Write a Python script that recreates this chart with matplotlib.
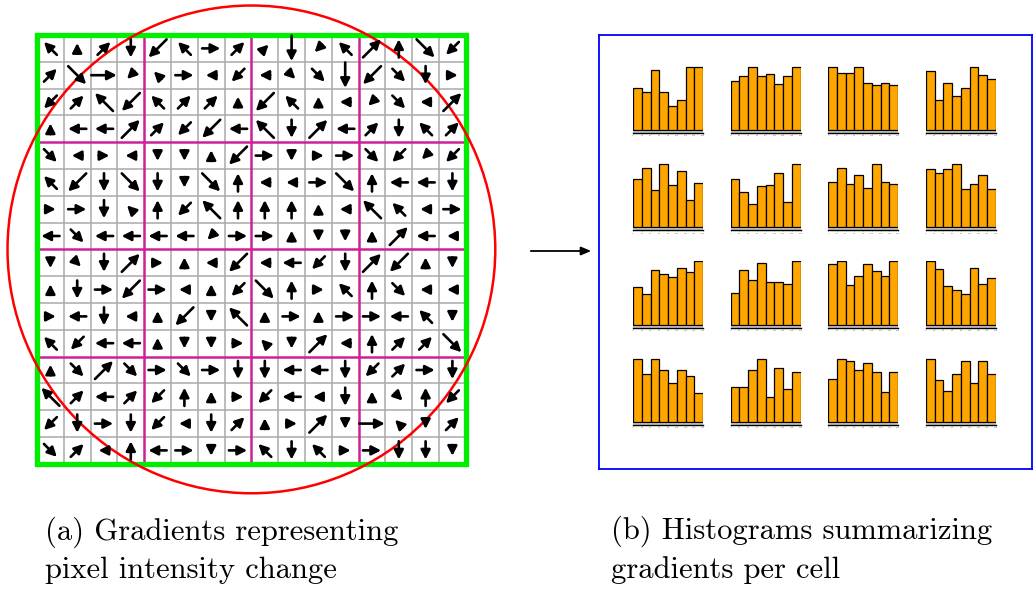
import matplotlib.pyplot as plt
from matplotlib.patches import Circle, Rectangle, FancyArrowPatch
import numpy as np

# === Gradient arrows per cell (16 x 16), row 0 at top ===
grad_dirs = [
    "NW N NE S SW NW E NE NE S SW NW NE N SE SW",
    "NE SE E SW NW E W SW W SE SE S SW SE S E",
    "SW NE NW SW NW NE NE N SW NW N W SW SE W NE",
    "N W W NE NE SW SW W NW S NE W NE S NW NE",
    "SE W E W S S N SW E S E E SE SW SW SW",
    "NW SW S SE S S SE N W W E SE N W W S",
    "E E S NW N SW NW N N N N W NW NW W E",
    "W SE W W W W SW E E N S S N NE W W",
    "S SE S NE E N W SW W W SW S NE SW N S",
    "N S E SW E W N SW SE N E NW N SE W W",
    "E W S W N SW S NW N E N E E W NW S",
    "NW SW W W N S S E NW S NE W N NE NE SE",
    "N SE NE SE E SE E S S W W S SW NE E S",
    "NW NE W NE SW N N E SW W W S N SE N SW",
    "SW S E S SW W S NE N E NE S E NW S NE",
    "SE NE W N W E S E NW S NW E E S S S",
]
# 0 = short (head only), 1 = medium, 2 = long
grad_lens = [
    "1011211102012121",
    "1220010100122110",
    "1122111021000102",
    "0112112121211111",
    "1000000210011101",
    "1212102100121111",
    "0110112111002101",
    "1111110110000210",
    "0012000201112200",
    "0112100121011100",
    "0110020201011110",
    "1111000000201112",
    "0121111111111111",
    "2111110011010011",
    "1111101100202001",
    "1101110111101110",
]

# === Histogram bar heights (4 x 4 cells, 8 orientation bins each) ===
hist_vals = [
    [125, 113, 177, 113, 71, 89, 188, 188],
    [145, 159, 188, 159, 167, 138, 159, 188],
    [188, 168, 168, 188, 140, 133, 140, 133],
    [176, 89, 139, 101, 125, 188, 164, 151],
    [143, 175, 111, 187, 124, 167, 80, 130],
    [142, 104, 70, 121, 126, 159, 76, 187],
    [135, 174, 129, 154, 115, 187, 135, 128],
    [173, 160, 172, 187, 113, 127, 153, 112],
    [110, 90, 162, 149, 142, 167, 155, 187],
    [94, 162, 131, 181, 125, 125, 119, 187],
    [180, 187, 116, 143, 180, 158, 143, 187],
    [187, 163, 114, 102, 90, 168, 121, 138],
    [188, 143, 188, 155, 117, 155, 137, 85],
    [103, 103, 155, 188, 75, 161, 97, 149],
    [127, 188, 181, 155, 175, 148, 88, 148],
    [188, 123, 91, 143, 181, 117, 181, 143],
]
bin_edges = [0, 20, 40, 60, 80, 100, 120, 140, 160]

caption_a = "(a) Gradients representing\npixel intensity change"
caption_b = "(b) Histograms summarizing\ngradients per cell"

W, H = 1035, 589
fig = plt.figure(figsize=(W / 100, H / 100), dpi=100)


def px_axes(x0, y0, x1, y1):
    # axes from pixel box (top-left origin)
    return fig.add_axes([x0 / W, 1 - y1 / H, (x1 - x0) / W, (y1 - y0) / H])


# === Left panel: grid of cells with gradient arrows ===
cell = 26.8
gx0, gy0 = 37, 35
ax = px_axes(0, 0, 505, 500)
ax.set_xlim(-gx0 / cell, (505 - gx0) / cell)
ax.set_ylim((500 - gy0) / cell, -gy0 / cell)
ax.set_aspect('equal')
ax.axis('off')

n = 16
for k in range(n + 1):
    if k % 4 == 0:
        continue
    ax.plot([k, k], [0, n], color='#aaaaaa', lw=1.1, zorder=1)
    ax.plot([0, n], [k, k], color='#aaaaaa', lw=1.1, zorder=1)
for k in (4, 8, 12):
    ax.plot([k, k], [0, n], color='#cc2299', lw=1.8, zorder=2)
    ax.plot([0, n], [k, k], color='#cc2299', lw=1.8, zorder=2)
ax.add_patch(Rectangle((0, 0), n, n, fill=False, edgecolor='#00ee00', lw=3.8, zorder=3))

vec = {'E': (1, 0), 'NE': (1, -1), 'N': (0, -1), 'NW': (-1, -1),
       'W': (-1, 0), 'SW': (-1, 1), 'S': (0, 1), 'SE': (1, 1)}
len_of = {'0': 0.4, '1': 0.68, '2': 0.95}
for r in range(n):
    dirs = grad_dirs[r].split()
    for c in range(n):
        vx, vy = vec[dirs[c]]
        norm = np.hypot(vx, vy)
        L = len_of[grad_lens[r][c]]
        dx, dy = vx / norm * L / 2, vy / norm * L / 2
        cx, cy = c + 0.5, r + 0.5
        ax.annotate('', xy=(cx + dx, cy + dy), xytext=(cx - dx, cy - dy),
                    arrowprops=dict(arrowstyle='-|>,head_length=0.55,head_width=0.28',
                                    color='black', lw=1.9, shrinkA=0, shrinkB=0),
                    zorder=5)

ax.add_patch(Circle((8, 8), 9.1, fill=False, edgecolor='#ff0000', lw=1.8, zorder=4))

# === Arrow between panels ===
fig.patches.append(FancyArrowPatch(
    (528 / W, 1 - 251 / H), (594 / W, 1 - 251 / H), transform=fig.transFigure,
    arrowstyle='-|>,head_length=0.6,head_width=0.25', mutation_scale=10,
    color='black', lw=1.3))

# === Right panel: blue box with 4x4 histograms ===
box = px_axes(599, 35, 1032, 469)
box.set_xticks([])
box.set_yticks([])
for s in box.spines.values():
    s.set_color('#0000ff')
    s.set_linewidth(1.3)

for i, vals in enumerate(hist_vals):
    r, c = divmod(i, 4)
    left = 633 + c * 97.6
    base = 130 + r * 97.3
    hax = px_axes(left, base - 64, left + 70, base + 3)
    top = max(vals)
    hax.bar(range(8), vals, width=1.0, align='edge', color='#ffa500',
            edgecolor='black', lw=0.9, zorder=2)
    hax.axhspan(-0.045 * top, 0, color='#cccccc', zorder=1)
    hax.set_xlim(0, 8)
    hax.set_ylim(-0.045 * top, top * 1.01)
    for s in ('top', 'right', 'left'):
        hax.spines[s].set_visible(False)
    hax.spines['bottom'].set_linewidth(1.0)
    hax.set_yticks([])
    hax.set_xticks(range(9))
    hax.set_xticklabels([str(b) for b in bin_edges], fontsize=1.6, color='#777777')
    hax.tick_params(axis='x', length=0.8, width=0.4, pad=1, colors='#777777')
    hax.patch.set_alpha(0)

# === Captions ===
fig.text(45 / W, 1 - 550 / H, caption_a, fontsize=22, family='cmr10',
         ha='left', va='center', linespacing=1.42)
fig.text(611 / W, 1 - 550 / H, caption_b, fontsize=22, family='cmr10',
         ha='left', va='center', linespacing=1.42)

fig.savefig('out.png', dpi=100)
